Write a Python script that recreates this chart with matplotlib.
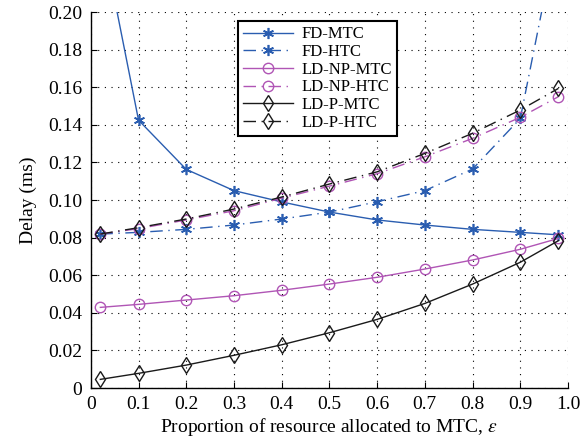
import matplotlib
matplotlib.use("Agg")
import matplotlib.pyplot as plt

eps = [0.02, 0.1, 0.2, 0.3, 0.4, 0.5, 0.6, 0.7, 0.8, 0.9, 0.98]
fd_mtc = [0.245, 0.1425, 0.1163, 0.105, 0.0990, 0.0936, 0.0894, 0.0867, 0.0844, 0.0828, 0.0815]
fd_htc = [0.0819, 0.0828, 0.0844, 0.0867, 0.0899, 0.0936, 0.0991, 0.105, 0.1165, 0.1434, 0.245]
ldnp_mtc = [0.0429, 0.0445, 0.0468, 0.0491, 0.0520, 0.0553, 0.0589, 0.0633, 0.0681, 0.0738, 0.0796]
ldnp_htc = [0.0819, 0.0848, 0.0894, 0.0943, 0.1010, 0.1074, 0.1140, 0.1230, 0.1328, 0.1440, 0.1550]
ldp_mtc = [0.0046, 0.0078, 0.0122, 0.0174, 0.0230, 0.0294, 0.0365, 0.0450, 0.0553, 0.0669, 0.0784]
ldp_htc = [0.0819, 0.0853, 0.0899, 0.0952, 0.1016, 0.1085, 0.1150, 0.1248, 0.1355, 0.1479, 0.1594]

xticks = [0, 0.1, 0.2, 0.3, 0.4, 0.5, 0.6, 0.7, 0.8, 0.9, 1.0]
xticklabels = ["0", "0.1", "0.2", "0.3", "0.4", "0.5", "0.6", "0.7", "0.8", "0.9", "1.0"]
yticks = [0, 0.02, 0.04, 0.06, 0.08, 0.10, 0.12, 0.14, 0.16, 0.18, 0.20]
yticklabels = ["0", "0.02", "0.04", "0.06", "0.08", "0.10", "0.12", "0.14", "0.16", "0.18", "0.20"]

plt.rcParams['font.family'] = ['Liberation Serif', 'DejaVu Serif']
plt.rcParams['mathtext.fontset'] = 'stix'

fig = plt.figure(figsize=(5.82, 4.46), dpi=100)
ax = fig.add_axes([0.156, 0.130, 0.820, 0.843])

blue = '#2a5db0'
purple = '#b055b5'
black = '#1a1a1a'
dd = (0, (9, 4, 1, 4))
ast = (6, 2, 0)

ax.plot(eps, fd_mtc, color=blue, lw=1, ls='-', marker=ast, ms=8, mew=1.2, label='FD-MTC')
ax.plot(eps, fd_htc, color=blue, lw=1, ls=dd, marker=ast, ms=8, mew=1.2, label='FD-HTC')
ax.plot(eps, ldnp_mtc, color=purple, lw=1, ls='-', marker='o', ms=7.5, mfc='none', mew=1, label='LD-NP-MTC')
ax.plot(eps, ldnp_htc, color=purple, lw=1, ls=dd, marker='o', ms=7.5, mfc='none', mew=1, label='LD-NP-HTC')
ax.plot(eps, ldp_mtc, color=black, lw=1, ls='-', marker='d', ms=8, mfc='none', mew=1, label='LD-P-MTC')
ax.plot(eps, ldp_htc, color=black, lw=1, ls=dd, marker='d', ms=8, mfc='none', mew=1, label='LD-P-HTC')

ax.set_xlim(0, 1.0)
ax.set_ylim(0, 0.20)
ax.set_xticks(xticks)
ax.set_xticklabels(xticklabels)
ax.set_yticks(yticks)
ax.set_yticklabels(yticklabels)
ax.tick_params(direction='in', length=4, labelsize=14, pad=6)
ax.grid(True, color='black', ls=(0, (1, 5)), lw=0.8)
for s in ['top', 'right']:
    ax.spines[s].set_visible(False)
for s in ['left', 'bottom']:
    ax.spines[s].set_linewidth(1)

ax.set_xlabel(r'Proportion of resource allocated to MTC, $\varepsilon$', fontsize=14, labelpad=2)
ax.set_ylabel('Delay (ms)', fontsize=14, labelpad=8)

leg = ax.legend(loc='upper left', bbox_to_anchor=(0.308, 0.975), fontsize=12, handlelength=3.0,
                frameon=True, fancybox=False, edgecolor='black', framealpha=1,
                borderpad=0.3, labelspacing=0.1, handletextpad=0.5, borderaxespad=0)
leg.get_frame().set_linewidth(1.5)

fig.savefig('out.png', dpi=100)
